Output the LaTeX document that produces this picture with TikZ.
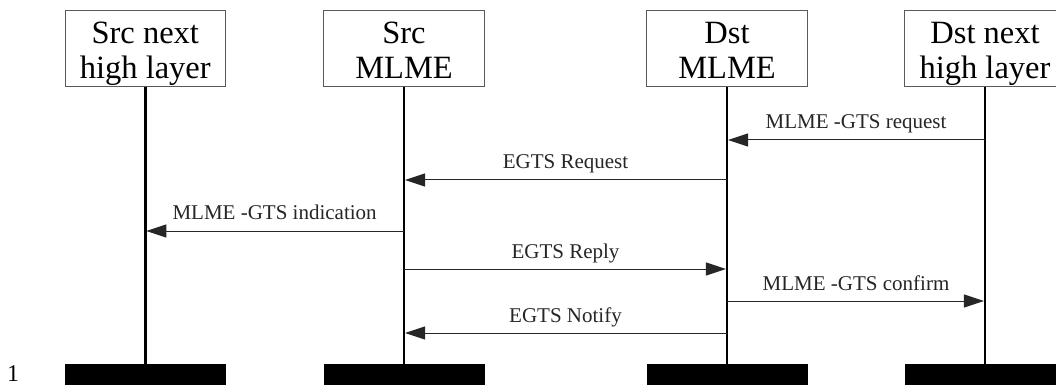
\documentclass[tikz,border=0pt]{standalone}
\usepackage{fontspec}
\setmainfont{Liberation Serif}
\usetikzlibrary{arrows.meta}
\newcommand{\topstrut}{\rule{0pt}{24pt}}
\newcommand{\botstrut}{\rule[-8pt]{0pt}{8pt}}
\tikzset{
  lifebox/.style={draw=black!65, line width=1pt, minimum width=160.5pt, minimum height=76pt, inner sep=0pt},
  boxtext/.style={anchor=north, align=center, inner sep=0pt, font=\fontsize{32.5}{35}\selectfont},
  endbar/.style={fill=black, draw=none, minimum width=161pt, minimum height=21pt, inner sep=0pt},
  lifeline/.style={line width=2.4pt, black},
  msg/.style={line width=1pt, black!85, -{Triangle[length=20pt,width=13pt]}, shorten >=1.1pt},
  lab/.style={midway, anchor=base, yshift=11pt, inner sep=0pt, font=\fontsize{21}{25}\selectfont},
}
\begin{document}
\begin{tikzpicture}[x=1pt,y=-1pt]
\useasboundingbox[fill=white] (0,0) rectangle (1056,387);
% header boxes
\node[lifebox] (b1) at (145.3,49) {};
\node[lifebox] (b2) at (404,49) {};
\node[lifebox] (b3) at (727,49) {};
\node[lifebox] (b4) at (985,49) {};
\node[boxtext] (t1) at (145.3,19.5) {\topstrut Src next\\high layer\botstrut};
\node[boxtext] (t2) at (404,19.5) {\topstrut Src\\MLME\botstrut};
\node[boxtext] (t3) at (727,19.5) {\topstrut Dst\\MLME\botstrut};
\node[boxtext] (t4) at (985,19.5) {\topstrut Dst next\\high layer\botstrut};
% end bars
\node[endbar] (e1) at (145.3,374.5) {};
\node[endbar] (e2) at (404,374.5) {};
\node[endbar] (e3) at (727,374.5) {};
\node[endbar] (e4) at (985,374.5) {};
% lifelines
\draw[lifeline] (b1.south) -- (e1.north);
\draw[lifeline] (b2.south) -- (e2.north);
\draw[lifeline] (b3.south) -- (e3.north);
\draw[lifeline] (b4.south) -- (e4.north);
% message rows
\coordinate (m1) at (0,140);
\coordinate (m2) at (0,180);
\coordinate (m3) at (0,231);
\coordinate (m4) at (0,269);
\coordinate (m5) at (0,301);
\coordinate (m6) at (0,333);
\draw[msg] (b4 |- m1) -- node[lab] {MLME -GTS request} (b3 |- m1);
\draw[msg] (b3 |- m2) -- node[lab] {EGTS Request} (b2 |- m2);
\draw[msg] (b2 |- m3) -- node[lab] {MLME -GTS indication} (b1 |- m3);
\draw[msg] (b2 |- m4) -- node[lab] {EGTS Reply} (b3 |- m4);
\draw[msg] (b3 |- m5) -- node[lab] {MLME -GTS confirm} (b4 |- m5);
\draw[msg] (b3 |- m6) -- node[lab] {EGTS Notify} (b2 |- m6);
% page number
\node[anchor=base west, inner sep=0pt, font=\fontsize{24}{28}\selectfont] (pn) at (7,381) {1};
\end{tikzpicture}
\end{document}
